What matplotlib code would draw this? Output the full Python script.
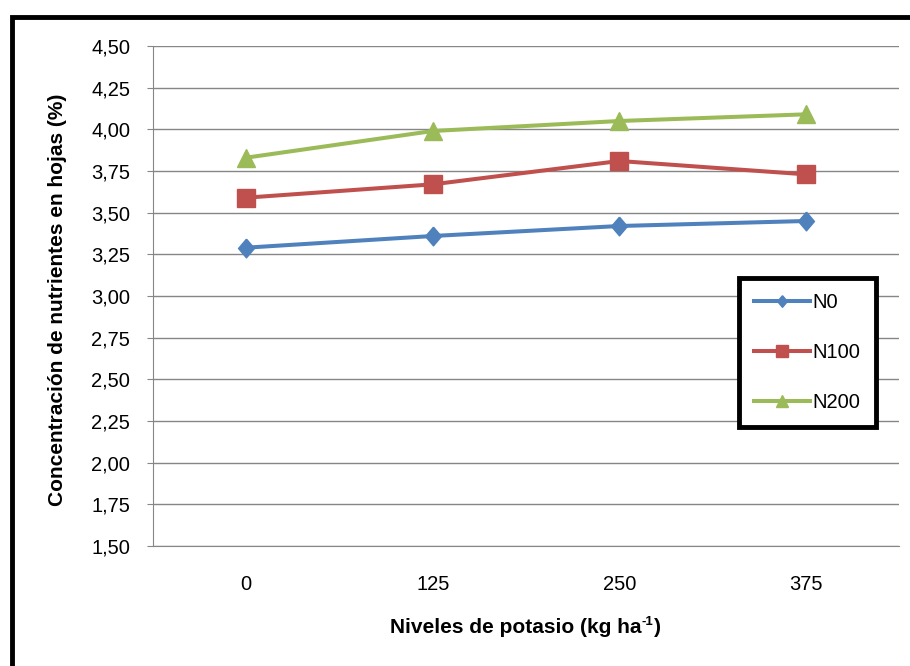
import matplotlib
matplotlib.use("Agg")
import matplotlib.pyplot as plt
from matplotlib.patches import Rectangle

plt.rcParams['font.family'] = ['Liberation Sans', 'DejaVu Sans']

categories = ["0", "125", "250", "375"]
n0 = [3.29, 3.36, 3.42, 3.45]
n100 = [3.59, 3.67, 3.81, 3.73]
n200 = [3.83, 3.99, 4.05, 4.09]
yticks = [1.50, 1.75, 2.00, 2.25, 2.50, 2.75, 3.00, 3.25, 3.50, 3.75, 4.00, 4.25, 4.50]
ytick_labels = ["1,50", "1,75", "2,00", "2,25", "2,50", "2,75", "3,00", "3,25", "3,50", "3,75", "4,00", "4,25", "4,50"]

W, H = 910, 666
fig = plt.figure(figsize=(W/100, H/100), dpi=100)
ax = fig.add_axes([153/W, 1 - 546/H, (899-153)/W, (546-46)/H])

diamond = [(0, 1), (0.85, 0), (0, -1), (-0.85, 0), (0, 1)]
x = range(len(categories))
ax.plot(x, n0, color='#4F81BD', lw=2.9, marker=diamond, ms=13.5, label='N0')
ax.plot(x, n100, color='#C0504D', lw=2.9, marker='s', ms=13.5, label='N100')
ax.plot(x, n200, color='#9BBB59', lw=2.9, marker='^', ms=13.5, label='N200')

ax.set_xlim(-0.5, 3.5)
ax.set_ylim(1.5, 4.5)
ax.set_yticks(yticks)
ax.set_yticklabels(ytick_labels)
ax.set_xticks(list(x))
ax.set_xticklabels(categories)
ax.tick_params(axis='y', length=4.5, color='#868686', labelsize=14.5, pad=12)
ax.tick_params(axis='x', length=0, labelsize=14.5, pad=21)
ax.grid(axis='y', color='#868686', lw=1)
ax.set_axisbelow(True)
for s in ['top', 'right']:
    ax.spines[s].set_visible(False)
ax.spines['left'].set_color('#868686')
ax.spines['bottom'].set_color('#868686')

# y label
fig.text(58/W, 1 - 300/H, "Concentración de nutrientes en hojas (%)", fontsize=15, fontweight='bold',
         rotation=90, ha='center', va='center')

# x label with superscript
t1 = fig.text(390/W, 1 - 633/H, "Niveles de potasio (kg ha", fontsize=15, fontweight='bold',
              ha='left', va='baseline')
t2 = ax.annotate("-1", xy=(1, 1), xycoords=t1, xytext=(0.3, 1.5), textcoords='offset points',
                 fontsize=9.5, fontweight='bold', ha='left', va='top', annotation_clip=False)
t3 = ax.annotate(")", xy=(1, 0), xycoords=(t2, t1), xytext=(0.3, 0), textcoords='offset points',
                 fontsize=15, fontweight='bold', ha='left', va='bottom', annotation_clip=False)

cx = (807.5 - 153) / (899 - 153)
cy = (546 - 352.5) / 500
leg = ax.legend(loc='center', bbox_to_anchor=(cx, cy), fontsize=14.5, frameon=True, fancybox=False,
                handlelength=2.75, labelspacing=1.55, borderpad=0.75, handletextpad=0.15,
                markerscale=0.62, framealpha=1)
leg.get_frame().set_edgecolor('black')
leg.get_frame().set_linewidth(3.5)

fig.patches.append(Rectangle((12/W, -0.1), 1.2, 1 - 17/H + 0.1, transform=fig.transFigure,
                             fill=False, edgecolor='black', lw=3.5))

fig.savefig("out.png", dpi=100)
